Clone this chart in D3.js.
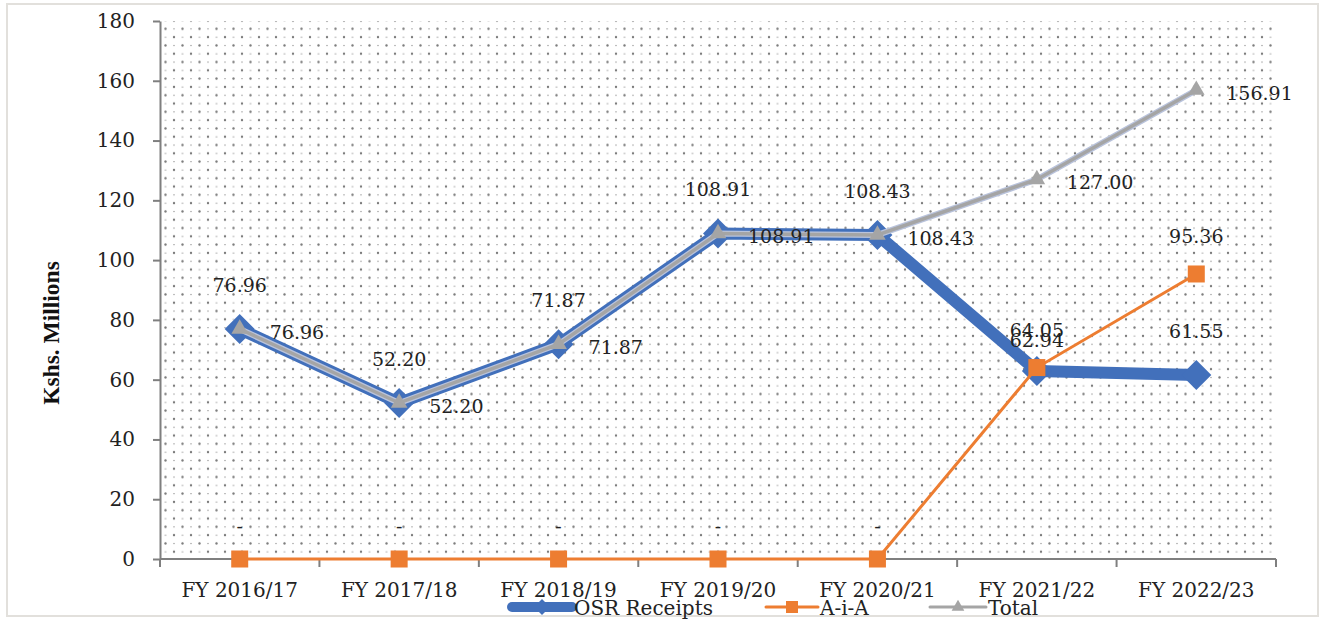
<!DOCTYPE html>
<html>
<head>
<meta charset="utf-8">
<script src="https://cdn.jsdelivr.net/npm/d3@7"></script>
<style>
  html, body { margin: 0; padding: 0; background: #fff; }
  svg { display: block; }
  .tick text { font-family: "DejaVu Serif", serif; fill: #222; }
</style>
</head>
<body>
<div id="chart"></div>
<script>
// ---- data ----
const categories = ['FY 2016/17', 'FY 2017/18', 'FY 2018/19', 'FY 2019/20', 'FY 2020/21', 'FY 2021/22', 'FY 2022/23'];
const osrReceipts = [76.96, 52.20, 71.87, 108.91, 108.43, 62.94, 61.55];
const aia = [0, 0, 0, 0, 0, 64.05, 95.36];
const total = [76.96, 52.20, 71.87, 108.91, 108.43, 127.00, 156.91];
const yTicks = [0, 20, 40, 60, 80, 100, 120, 140, 160, 180];

const colors = { osr: '#4270bb', aia: '#ed7d31', total: '#a5a5a5', axis: '#7f7f7f' };

const W = 1324, H = 620;
const plot = { left: 160, right: 1276, top: 21, bottom: 559 };

const svg = d3.select('#chart').append('svg')
    .attr('width', W)
    .attr('height', H);

// dotted fill pattern of the plot area
const defs = svg.append('defs');
const pat = defs.append('pattern')
    .attr('id', 'dots')
    .attr('patternUnits', 'userSpaceOnUse')
    .attr('width', 17)
    .attr('height', 16.6);
pat.append('circle').attr('cx', 4).attr('cy', 4).attr('r', 1.2).attr('fill', '#7a7a7a');
pat.append('circle').attr('cx', 12.5).attr('cy', 12.3).attr('r', 1.2).attr('fill', '#7a7a7a');
pat.append('rect').attr('x', 11.5).attr('y', 3.6).attr('width', 2).attr('height', 0.9).attr('fill', '#a8a8a8');
pat.append('rect').attr('x', 3).attr('y', 11.9).attr('width', 2).attr('height', 0.9).attr('fill', '#a8a8a8');

// outer frame
svg.append('rect')
    .attr('x', 7).attr('y', 4)
    .attr('width', 1311).attr('height', 612)
    .attr('fill', '#fff')
    .attr('stroke', '#e2e0dc')
    .attr('stroke-width', 2);

svg.append('rect')
    .attr('x', plot.left).attr('y', plot.top)
    .attr('width', plot.right - plot.left)
    .attr('height', plot.bottom - plot.top)
    .attr('fill', 'url(#dots)');

// ---- scales ----
const xBand = d3.scaleBand()
    .domain(categories)
    .range([plot.left, plot.right])
    .padding(0);
const xc = c => xBand(c) + xBand.bandwidth() / 2;

const y = d3.scaleLinear()
    .domain([0, 180])
    .range([plot.bottom, plot.top]);

// ---- axes ----
const yAxis = svg.append('g')
    .attr('transform', `translate(${plot.left},0)`)
    .call(d3.axisLeft(y).tickValues(yTicks).tickSize(7).tickPadding(18).tickSizeOuter(0));
yAxis.selectAll('.tick text').style('font-size', '20px');
yAxis.selectAll('line, path').attr('stroke', colors.axis).attr('stroke-width', 2);

// x axis line with ticks at category boundaries
const edges = categories.map(c => xBand(c)).concat([plot.right]);
svg.append('line')
    .attr('x1', plot.left).attr('x2', plot.right)
    .attr('y1', plot.bottom).attr('y2', plot.bottom)
    .attr('stroke', colors.axis).attr('stroke-width', 2);
svg.selectAll('.xedge')
    .data(edges)
    .join('line')
    .attr('class', 'xedge')
    .attr('x1', d => d).attr('x2', d => d)
    .attr('y1', plot.bottom).attr('y2', plot.bottom + 8)
    .attr('stroke', colors.axis).attr('stroke-width', 2);

const xAxis = svg.append('g')
    .attr('transform', `translate(0,${plot.bottom})`)
    .call(d3.axisBottom(xBand).tickSize(0).tickPadding(24));
xAxis.select('.domain').remove();
xAxis.selectAll('.tick text').style('font-size', '20px');

// y axis title
svg.append('text')
    .attr('transform', 'translate(59,333) rotate(-90)')
    .attr('text-anchor', 'middle')
    .style('font-family', '"Liberation Serif", "Times New Roman", serif')
    .style('font-weight', 'bold')
    .style('font-size', '23.5px')
    .attr('fill', '#111')
    .text('Kshs. Millions');

// ---- series ----
const pts = arr => arr.map((v, i) => ({ cat: categories[i], v }));
const line = d3.line().x(d => xc(d.cat)).y(d => y(d.v));

const diamond = r => `M0,${-r}L${r},0L0,${r}L${-r},0Z`;

// OSR Receipts
svg.append('path')
    .datum(pts(osrReceipts))
    .attr('d', line)
    .attr('fill', 'none')
    .attr('stroke', colors.osr)
    .attr('stroke-width', 12)
    .attr('stroke-linejoin', 'round');
svg.selectAll('.osr-mark')
    .data(pts(osrReceipts))
    .join('path')
    .attr('class', 'osr-mark')
    .attr('transform', d => `translate(${xc(d.cat)},${y(d.v)})`)
    .attr('d', diamond(15))
    .attr('fill', colors.osr);

// A-i-A
svg.append('path')
    .datum(pts(aia))
    .attr('d', line)
    .attr('fill', 'none')
    .attr('stroke', colors.aia)
    .attr('stroke-width', 3);
svg.selectAll('.aia-mark')
    .data(pts(aia))
    .join('rect')
    .attr('class', 'aia-mark')
    .attr('x', d => xc(d.cat) - 8.5)
    .attr('y', d => y(d.v) - 8.5)
    .attr('width', 17).attr('height', 17)
    .attr('fill', colors.aia);

// Total
svg.append('path')
    .datum(pts(total))
    .attr('d', line)
    .attr('fill', 'none')
    .attr('stroke', '#b9c3dc')
    .attr('stroke-width', 6);
svg.append('path')
    .datum(pts(total))
    .attr('d', line)
    .attr('fill', 'none')
    .attr('stroke', colors.total)
    .attr('stroke-width', 3.5);
svg.selectAll('.total-mark')
    .data(pts(total))
    .join('path')
    .attr('class', 'total-mark')
    .attr('transform', d => `translate(${xc(d.cat)},${y(d.v)})`)
    .attr('d', d3.symbol(d3.symbolTriangle, 120))
    .attr('fill', colors.total);

// ---- data labels ----
const fmt = v => v === 0 ? '-' : v.toFixed(2);
const labelStyle = sel => sel
    .style('font-family', '"DejaVu Serif", serif')
    .style('font-size', '19px')
    .attr('fill', '#222');

const aiaLabelY = d => y(d.v) - 31;
// OSR label sits above its point; pushed down a bit when it collides with the A-i-A label
const osrLabelY = (d, i) => {
    const yy = y(d.v) - 37;
    const other = aiaLabelY({ v: aia[i] });
    return Math.abs(yy - other) < 12 ? other + 10 : yy;
};

svg.selectAll('.osr-label')
    .data(pts(osrReceipts))
    .join('text')
    .attr('class', 'osr-label')
    .attr('x', d => xc(d.cat))
    .attr('y', osrLabelY)
    .attr('text-anchor', 'middle')
    .call(labelStyle)
    .text(d => fmt(d.v));

svg.selectAll('.aia-label')
    .data(pts(aia))
    .join('text')
    .attr('class', 'aia-label')
    .attr('x', d => xc(d.cat))
    .attr('y', d => d.v === 0 ? aiaLabelY(d) + 5 : aiaLabelY(d))
    .attr('text-anchor', 'middle')
    .call(labelStyle)
    .text(d => fmt(d.v));

svg.selectAll('.total-label')
    .data(pts(total))
    .join('text')
    .attr('class', 'total-label')
    .attr('x', d => xc(d.cat) + 30)
    .attr('y', d => y(d.v) + 10)
    .call(labelStyle)
    .text(d => fmt(d.v));

// ---- legend ----
const legendY = 607;
const legendItems = [
    { name: 'OSR Receipts', x0: 512, x1: 572, color: colors.osr, width: 10, mark: 'diamond' },
    { name: 'A-i-A', x0: 766, x1: 818, color: colors.aia, width: 3, mark: 'square' },
    { name: 'Total', x0: 930, x1: 986, color: colors.total, width: 3, mark: 'triangle' }
];
const lg = svg.append('g').attr('class', 'legend');
legendItems.forEach(it => {
    const cx = (it.x0 + it.x1) / 2;
    lg.append('line')
        .attr('x1', it.x0).attr('x2', it.x1)
        .attr('y1', legendY).attr('y2', legendY)
        .attr('stroke', it.color)
        .attr('stroke-width', it.width)
        .attr('stroke-linecap', 'round');
    if (it.mark === 'diamond') {
        lg.append('path').attr('transform', `translate(${cx},${legendY})`)
            .attr('d', diamond(8)).attr('fill', it.color);
    } else if (it.mark === 'square') {
        lg.append('rect').attr('x', cx - 6).attr('y', legendY - 6)
            .attr('width', 12).attr('height', 12).attr('fill', it.color);
    } else {
        lg.append('path').attr('transform', `translate(${cx},${legendY})`)
            .attr('d', d3.symbol(d3.symbolTriangle, 70)).attr('fill', it.color);
    }
    lg.append('text')
        .attr('x', it.x1 + 2)
        .attr('y', legendY + 8)
        .style('font-family', '"DejaVu Serif", serif')
        .style('font-size', '20px')
        .attr('fill', '#222')
        .text(it.name);
});
</script>
</body>
</html>
